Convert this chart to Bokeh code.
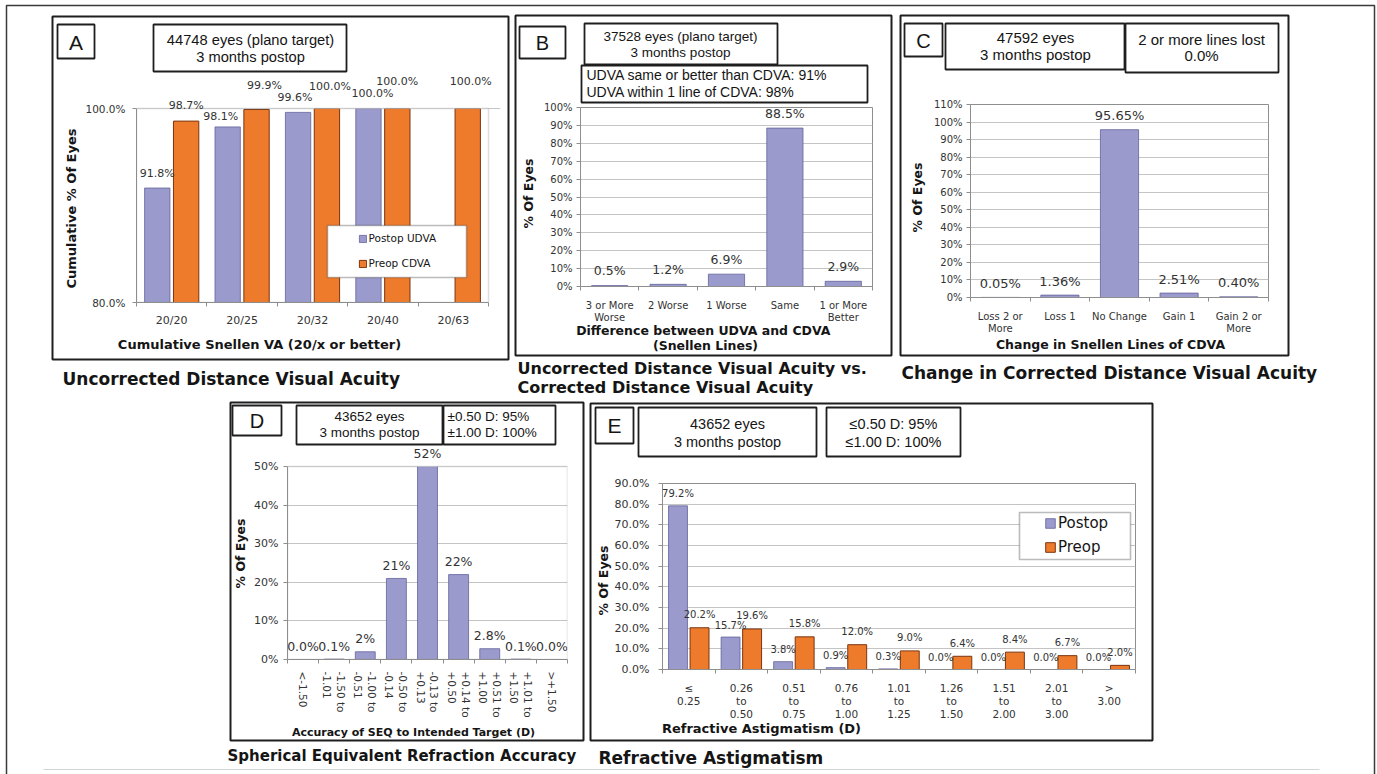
import math
import numpy as np
from bokeh.plotting import figure
from bokeh.models import (ColumnDataSource, Range1d, FixedTicker, PrintfTickFormatter,
                          BoxAnnotation, LabelSet, Legend, LegendItem)
from bokeh.transform import dodge
from bokeh.core.properties import value
from bokeh.embed import file_html
from bokeh.resources import INLINE

# ---------------- data ----------------
# A: cumulative Snellen VA (20/x or better)
a_categories = ["20/20", "20/25", "20/32", "20/40", "20/63"]
a_postop_udva = [91.8, 98.1, 99.6, 100.0, None]
a_preop_cdva = [98.7, 99.9, 100.0, 100.0, 100.0]

# B: difference between UDVA and CDVA (Snellen lines)
b_categories = ["3 or More\nWorse", "2 Worse", "1 Worse", "Same", "1 or More\nBetter"]
b_percent = [0.5, 1.2, 6.9, 88.5, 2.9]

# C: change in Snellen lines of CDVA
c_categories = ["Loss 2 or\nMore", "Loss 1", "No Change", "Gain 1", "Gain 2 or\nMore"]
c_percent = [0.05, 1.36, 95.65, 2.51, 0.40]

# D: accuracy of SEQ to intended target (D)
d_categories = ["<-1.50", "-1.50 to\n-1.01", "-1.00 to\n-0.51", "-0.50 to\n-0.14",
                "-0.13 to\n+0.13", "+0.14 to\n+0.50", "+0.51 to\n+1.00",
                "+1.01 to\n+1.50", ">+1.50"]
d_percent = [0.0, 0.1, 2, 21, 52, 22, 2.8, 0.1, 0.0]

# E: refractive astigmatism (D)
e_categories = ["\u2264\n0.25", "0.26\nto\n0.50", "0.51\nto\n0.75", "0.76\nto\n1.00",
                "1.01\nto\n1.25", "1.26\nto\n1.50", "1.51\nto\n2.00", "2.01\nto\n3.00",
                ">\n3.00"]
e_postop = [79.2, 15.7, 3.8, 0.9, 0.3, 0.0, 0.0, 0.0, 0.0]
e_preop = [20.2, 19.6, 15.8, 12.0, 9.0, 6.4, 8.4, 6.7, 2.0]

# ---------------- styling ----------------
PURPLE, PURPLE_EDGE = "#9a9acd", "#62629a"
ORANGE, ORANGE_EDGE = "#ee7b2c", "#7a3510"
AXIS_GRAY, GRID_GRAY = "#8e8e8e", "#c4c4c4"
INK, LABEL_INK = "#151515", "#333333"
ARIAL, VERDANA = "Liberation Sans", "DejaVu Sans"
PAGE_W, PAGE_H = 1377, 774


class Panel:
    """A chart figure placed at (left, top) on the page.  `area` is the plot
    area (l, r, t, b) in page pixels; the frame may reach beyond it (frame_top,
    frame_right) so that value labels next to the plot area stay visible."""

    def __init__(self, left, top, width, height, area, n_cats, y_start, y_end,
                 frame_top=None, frame_right=None):
        l, r, t, b = area
        self.left, self.top = left, top
        ft = t if frame_top is None else frame_top
        fr = r if frame_right is None else frame_right
        px_per_unit = (b - t) / (y_end - y_start)
        px_per_cat = (r - l) / n_cats
        y_top = y_end + (t - ft) / px_per_unit
        x_end = n_cats + 0.5 + (fr - r) / px_per_cat
        self.fl = l - left              # frame left inside the canvas
        self.fb = b - top               # frame bottom inside the canvas
        self.n = n_cats
        self.y_start, self.y_end = y_start, y_end
        p = figure(width=width, height=height,
                   x_range=Range1d(0.5, x_end), y_range=Range1d(y_start, y_top),
                   min_border_left=l - left, min_border_right=left + width - fr,
                   min_border_top=ft - top, min_border_bottom=top + height - b,
                   toolbar_location=None, output_backend="svg",
                   background_fill_color="white", border_fill_color="white",
                   styles={"position": "absolute", "left": f"{left}px", "top": f"{top}px"})
        p.xgrid.visible = False
        p.ygrid.grid_line_color = GRID_GRAY
        p.ygrid.grid_line_width = 1.2
        self.extended = frame_top is not None or frame_right is not None
        if self.extended:
            p.outline_line_color = None
        else:
            p.outline_line_color = AXIS_GRAY
            p.outline_line_width = 1
        self.p = p

    def finish_area(self):
        """Cut bars at the axis maximum and outline the plot area (extended frames)."""
        if not self.extended:
            return
        self.p.add_layout(BoxAnnotation(left=0.5, right=self.n + 0.5, bottom=self.y_end,
                                        fill_color="white", fill_alpha=1.0, line_alpha=0))
        self.p.add_layout(BoxAnnotation(left=0.5, right=self.n + 0.5, bottom=self.y_start,
                                        top=self.y_end, fill_alpha=0.0,
                                        line_color=AXIS_GRAY, line_width=1.5))
        self.p.yaxis[0].bounds = (self.y_start, self.y_end)
        self.p.xaxis[0].bounds = (0.5, self.n + 0.5)

    def sx(self, x):
        return x - self.left - self.fl

    def sy(self, y):
        return self.fb - (y - self.top)

    def inner_box(self, x0, y0, x1, y1):
        self.p.add_layout(BoxAnnotation(
            left=self.sx(x0), right=self.sx(x1), top=self.sy(y0), bottom=self.sy(y1),
            left_units="screen", right_units="screen", top_units="screen", bottom_units="screen",
            line_color="#1e1e1e", line_width=1.6, fill_color="white", fill_alpha=1.0))

    def y_axis(self, ticks, fmt, size, label_standoff):
        ax = self.p.yaxis[0]
        ax.ticker = FixedTicker(ticks=ticks, minor_ticks=[])
        ax.formatter = PrintfTickFormatter(format=fmt)
        ax.major_tick_in = 0
        ax.major_tick_out = 4
        ax.minor_tick_line_color = None
        ax.axis_line_color = AXIS_GRAY
        ax.major_tick_line_color = AXIS_GRAY
        ax.major_label_text_font = VERDANA
        ax.major_label_text_font_size = f"{size}px"
        ax.major_label_text_color = LABEL_INK
        ax.major_label_standoff = label_standoff

    def x_axis(self, labels, size, standoff, orientation=None, line_height=1.15):
        ax = self.p.xaxis[0]
        n = len(labels)
        ax.ticker = FixedTicker(ticks=list(range(1, n + 1)),
                                minor_ticks=[i + 0.5 for i in range(0, n + 1)])
        ax.major_label_overrides = {i + 1: lab for i, lab in enumerate(labels)}
        ax.major_tick_in = 0
        ax.major_tick_out = 0
        ax.minor_tick_in = 0
        ax.minor_tick_out = 4
        ax.minor_tick_line_color = AXIS_GRAY
        ax.axis_line_color = AXIS_GRAY
        ax.major_label_text_font = VERDANA
        ax.major_label_text_font_size = f"{size}px"
        ax.major_label_text_color = LABEL_INK
        ax.major_label_text_line_height = line_height
        ax.major_label_standoff = standoff
        if orientation is not None:
            ax.major_label_orientation = orientation

    def value_labels(self, xs, ys, texts, size, dy, dx=None, x_shift=0.0):
        src = ColumnDataSource(dict(x=xs, y=ys, t=texts,
                                    dy=dy if isinstance(dy, list) else [dy] * len(xs),
                                    dx=dx if dx is not None else [0] * len(xs)))
        self.p.add_layout(LabelSet(
            x=dodge("x", x_shift), y="y", text="t", source=src,
            x_offset="dx", y_offset="dy", text_align="center", text_baseline="middle",
            text_font=value(VERDANA), text_font_size=f"{size}px", text_color=LABEL_INK))

    def legend(self, renderers, names, glyph_center_x, top_y, size, glyph, label_h, spacing, standoff):
        items = [LegendItem(label=nm, renderers=[r]) for r, nm in zip(renderers, names)]
        height = label_h * len(items) + spacing * (len(items) - 1)
        leg = Legend(items=items, orientation="vertical",
                     location=(self.sx(glyph_center_x - glyph / 2), self.sy(top_y + height)),
                     border_line_alpha=0, background_fill_alpha=0, padding=0, margin=0,
                     spacing=spacing, glyph_width=glyph, glyph_height=glyph,
                     label_standoff=standoff, label_height=label_h,
                     label_text_font=VERDANA, label_text_font_size=f"{size}px",
                     label_text_color=INK)
        self.p.add_layout(leg)


def pct(v, digits):
    return f"{v:.{digits}f}%"


# ---------------- page overlay: frames, boxes, captions ----------------
ov = figure(width=PAGE_W, height=PAGE_H, x_range=Range1d(0, PAGE_W), y_range=Range1d(0, PAGE_H),
            min_border=0, x_axis_location=None, y_axis_location=None,
            toolbar_location=None, output_backend="svg",
            background_fill_alpha=0, border_fill_alpha=0, outline_line_color=None,
            styles={"position": "absolute", "left": "0px", "top": "0px",
                    "z-index": "5", "pointer-events": "none"})
ov.grid.visible = False


def ov_box(x0, y0, x1, y1, lw=1.8, color="#1e1e1e", fill=None):
    ov.quad(left=[x0], right=[x1], top=[PAGE_H - y0], bottom=[PAGE_H - y1],
            line_color=color, line_width=lw,
            fill_color=fill if fill else "white", fill_alpha=1.0 if fill else 0.0)


def ov_text(x, y, txt, size, font=ARIAL, bold=False, align="center", angle=0.0, color=INK):
    ov.text(x=[x], y=[PAGE_H - y], text=[txt], angle=angle,
            text_font=value(font), text_font_size=value(f"{size}px"),
            text_font_style="bold" if bold else "normal",
            text_align=align, text_baseline="middle", text_color=color)


ov_box(6, 5, 1374, 800, lw=1.5, color="#3a3a3a")
ov_box(43, 768.5, 1319, 769.5, lw=0, color="#d4d4d4", fill="#d4d4d4")

# ====================== A ======================
A = Panel(0, 0, 512, 396, (136, 488, 108, 302), len(a_categories), 80, 100,
          frame_top=74, frame_right=500)
pa = A.p
a_x = list(range(1, len(a_categories) + 1))
src_a = ColumnDataSource(dict(x=a_x,
                              post=[np.nan if v is None else v for v in a_postop_udva],
                              pre=a_preop_cdva))
ra1 = pa.vbar(x=dodge("x", -0.205), top="post", bottom=80, width=0.36, source=src_a,
              fill_color=PURPLE, line_color=PURPLE_EDGE, line_width=0.8)
ra2 = pa.vbar(x=dodge("x", 0.205), top="pre", bottom=80, width=0.36, source=src_a,
              fill_color=ORANGE, line_color=ORANGE_EDGE, line_width=1)
A.y_axis([80, 100], "%.1f%%", 10.5, 7)
A.x_axis(a_categories, 11, 7)
A.finish_area()
post_idx = [i for i, v in enumerate(a_postop_udva) if v is not None]
A.value_labels([a_x[i] for i in post_idx], [a_postop_udva[i] for i in post_idx],
               [pct(a_postop_udva[i], 1) for i in post_idx], 11,
               dy=[15, 10, 15, 15], dx=[0, -7, -3, 4], x_shift=-0.205)
A.value_labels(a_x, a_preop_cdva, [pct(v, 1) for v in a_preop_cdva], 11,
               dy=[16, 24, 22, 27, 27], dx=[0, 8, 3, 0, 3], x_shift=0.205)
A.inner_box(327, 225, 466, 277)
A.legend([ra1, ra2], ["Postop UDVA", "Preop CDVA"], 362, 228, 10.5, 9, 20, 5, 2)

ov_box(52, 16, 508, 359, lw=2)
ov_box(57, 24, 94, 58, fill="white")
ov_text(75.5, 41.5, "A", 21)
ov_box(153, 24, 346, 71, fill="white")
ov_text(250, 39, "44748 eyes (plano target)", 14.7)
ov_text(250, 56, "3 months postop", 14.7)
ov_text(71, 208, "Cumulative % Of Eyes", 13, font=VERDANA, bold=True, angle=math.pi / 2)
ov_text(259, 344, "Cumulative Snellen VA (20/x or better)", 13, font=VERDANA, bold=True)
ov_text(62, 378, "Uncorrected Distance Visual Acuity", 17, font=VERDANA, bold=True, align="left")

# ====================== B ======================
B = Panel(512, 0, 383, 396, (580, 872, 107, 286), len(b_categories), 0, 100)
pb = B.p
b_x = list(range(1, len(b_categories) + 1))
src_b = ColumnDataSource(dict(x=b_x, v=b_percent))
pb.vbar(x="x", top="v", bottom=0, width=0.62, source=src_b,
        fill_color=PURPLE, line_color=PURPLE_EDGE, line_width=0.8)
B.y_axis(list(range(0, 101, 10)), "%d%%", 10, 4)
B.x_axis(b_categories, 10, 9)
B.value_labels(b_x, b_percent, [pct(v, 1) for v in b_percent], 12.5, dy=15)

ov_box(515, 15, 891, 355, lw=2)
ov_box(519, 26, 565, 58, fill="white")
ov_text(542, 42, "B", 20)
ov_box(584, 23, 777, 64, fill="white")
ov_text(680, 36, "37528 eyes (plano target)", 13.5)
ov_text(680, 52, "3 months postop", 13.5)
ov_box(581, 65, 867, 102, fill="white")
ov_text(586, 74.5, "UDVA same or better than CDVA: 91%", 14, align="left")
ov_text(586, 91, "UDVA within 1 line of CDVA: 98%", 14, align="left")
ov_text(528, 193, "% Of Eyes", 12.5, font=VERDANA, bold=True, angle=math.pi / 2)
ov_text(705, 330, "Difference between  UDVA and CDVA", 12.5, font=VERDANA, bold=True)
ov_text(705, 345, "(Snellen Lines)", 12.5, font=VERDANA, bold=True)
ov_text(517, 368, "Uncorrected Distance Visual Acuity vs.", 16, font=VERDANA, bold=True, align="left")
ov_text(517, 387, "Corrected Distance Visual Acuity", 16, font=VERDANA, bold=True, align="left")

# ====================== C ======================
C = Panel(895, 0, 482, 396, (970, 1268, 104, 297), len(c_categories), 0, 110)
pc = C.p
c_x = list(range(1, len(c_categories) + 1))
src_c = ColumnDataSource(dict(x=c_x, v=c_percent))
pc.vbar(x="x", top="v", bottom=0, width=0.64, source=src_c,
        fill_color=PURPLE, line_color=PURPLE_EDGE, line_width=0.8)
C.y_axis(list(range(0, 111, 10)), "%d%%", 10, 4)
C.x_axis(c_categories, 10, 9)
C.value_labels(c_x, c_percent, [pct(v, 2) for v in c_percent], 13, dy=14)

ov_box(900, 15, 1288, 355, lw=2)
ov_box(904, 23, 942, 56, fill="white")
ov_text(923, 40, "C", 20)
ov_box(945, 23, 1124, 69, fill="white")
ov_text(1035, 37, "47592 eyes", 15)
ov_text(1035, 54, "3 months postop", 15)
ov_box(1125, 23, 1278, 72, fill="white")
ov_text(1201, 39, "2 or more lines lost", 15)
ov_text(1201, 55, "0.0%", 15)
ov_text(917, 197, "% Of Eyes", 12.5, font=VERDANA, bold=True, angle=math.pi / 2)
ov_text(1110, 344, "Change in Snellen Lines of CDVA", 12.5, font=VERDANA, bold=True)
ov_text(901, 372, "Change in Corrected Distance Visual Acuity", 17, font=VERDANA, bold=True, align="left")

# ====================== D ======================
D = Panel(0, 396, 587, 378, (287, 567, 466, 659), len(d_categories), 0, 50, frame_top=448)
pd_ = D.p
d_x = list(range(1, len(d_categories) + 1))
src_d = ColumnDataSource(dict(x=d_x, v=d_percent))
pd_.vbar(x="x", top="v", bottom=0, width=0.64, source=src_d,
         fill_color=PURPLE, line_color=PURPLE_EDGE, line_width=0.8)
D.y_axis(list(range(0, 51, 10)), "%d%%", 11, 5)
D.x_axis(d_categories, 10.5, 8, orientation=-math.pi / 2)
D.finish_area()
d_text = [f"{v:.0f}%" if (v >= 1 and float(v).is_integer()) else f"{v:.1f}%" for v in d_percent]
D.value_labels(d_x, list(np.minimum(d_percent, 50)), d_text, 12.5, dy=13)

ov_box(230, 402, 583, 740, lw=2)
ov_box(232, 405, 281, 435, fill="white")
ov_text(256.5, 420, "D", 20)
ov_box(296, 405, 442, 444, fill="white")
ov_text(369, 416, "43652 eyes", 13.5)
ov_text(369, 432, "3 months postop", 13.5)
ov_box(443, 405, 555, 444, fill="white")
ov_text(447, 416, "\u00b10.50 D: 95%", 13.5, align="left")
ov_text(447, 432, "\u00b11.00 D: 100%", 13.5, align="left")
ov_text(240, 553, "% Of Eyes", 12.5, font=VERDANA, bold=True, angle=math.pi / 2)
ov_text(413, 732, "Accuracy of SEQ to Intended Target (D)", 11, font=VERDANA, bold=True)
ov_text(227, 755, "Spherical Equivalent Refraction Accuracy", 15, font=VERDANA, bold=True, align="left")

# ====================== E ======================
E = Panel(587, 396, 790, 378, (662, 1135, 483, 669), len(e_categories), 0, 90)
pe = E.p
e_x = list(range(1, len(e_categories) + 1))
src_e = ColumnDataSource(dict(x=e_x, post=e_postop, pre=e_preop))
re1 = pe.vbar(x=dodge("x", -0.205), top="post", bottom=0, width=0.36, source=src_e,
              fill_color=PURPLE, line_color=PURPLE_EDGE, line_width=0.8)
re2 = pe.vbar(x=dodge("x", 0.205), top="pre", bottom=0, width=0.36, source=src_e,
              fill_color=ORANGE, line_color=ORANGE_EDGE, line_width=1)
E.y_axis(list(range(0, 91, 10)), "%.1f%%", 11, 9)
E.x_axis(e_categories, 10.5, 8, line_height=1.1)
E.value_labels(e_x, e_postop, [pct(v, 1) for v in e_postop], 10, dy=12, x_shift=-0.205)
E.value_labels(e_x, e_preop, [pct(v, 1) for v in e_preop], 10, dy=13, x_shift=0.205)
E.inner_box(1019, 512, 1130, 559)
E.legend([re1, re2], ["Postop", "Preop"], 1050, 513, 15, 12, 20, 4, 2)

ov_box(590, 403, 1152, 740, lw=2)
ov_box(595, 407, 633, 443, fill="white")
ov_text(614, 425, "E", 21)
ov_box(638, 407, 816, 456, fill="white")
ov_text(727, 423, "43652 eyes", 14.5)
ov_text(727, 441, "3 months postop", 14.5)
ov_box(826, 407, 960, 456, fill="white")
ov_text(893, 423, "\u22640.50 D: 95%", 14.5)
ov_text(893, 441, "\u22641.00 D: 100%", 14.5)
ov_text(603, 580, "% Of Eyes", 12.5, font=VERDANA, bold=True, angle=math.pi / 2)
ov_text(761, 728, "Refractive Astigmatism (D)", 13, font=VERDANA, bold=True)
ov_text(598, 757, "Refractive Astigmatism", 17, font=VERDANA, bold=True, align="left")

open("out.html", "w").write(
    file_html([pa, pb, pc, pd_, pe, ov], INLINE, title="Visual outcomes"))
